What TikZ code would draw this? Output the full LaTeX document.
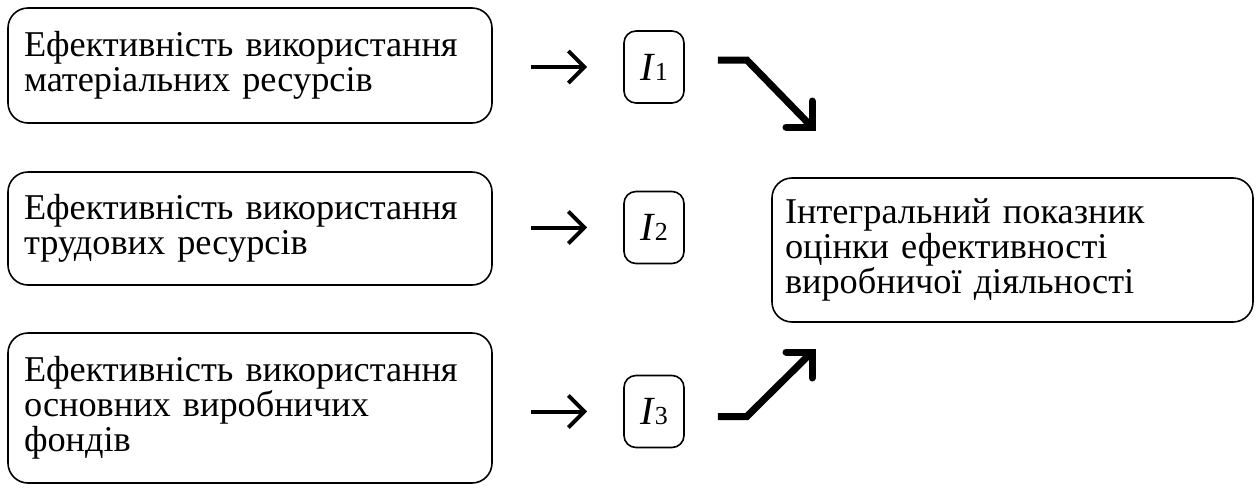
\documentclass[tikz,border=0pt]{standalone}
\usepackage{fontspec}
\setmainfont{Liberation Serif}
\usetikzlibrary{arrows.meta}

\tikzset{
  factor/.style={draw, line width=1.6pt, rounded corners=20pt,
    minimum width=484pt, text width=452pt, align=left, inner sep=0pt,
    font=\fontsize{36.3}{35}\selectfont},
  index/.style={draw, line width=1.6pt, rounded corners=12pt,
    minimum width=60pt, minimum height=72pt, inner sep=0pt,
    font=\fontsize{40}{40}\selectfont},
  goes/.style={line width=4pt, -{Straight Barb[length=16pt,width=32pt]},
    shorten <=38pt, shorten >=36pt},
  elbow/.style={line width=7pt, line join=miter},
  barb/.style={line width=7pt, line cap=round}
}
\newcommand{\idx}[1]{\textit{I}{\fontsize{26}{26}\selectfont #1}}

\begin{document}
\begin{tikzpicture}[x=1pt,y=-1pt]
  \useasboundingbox (0,0) rectangle (1259,488);

  % three groups of resources
  \node[factor, minimum height=115pt] (e1) at (250,65.5)
    {Ефективність використання\\матеріальних ресурсів};
  \node[factor, minimum height=113pt] (e2) at (250,228.5)
    {Ефективність використання\\трудових ресурсів};
  \node[factor, minimum height=150pt] (e3) at (250,408)
    {Ефективність використання\\основних виробничих\\фондів};

  % partial indices
  \node[index] (i1) at (654,67) {\idx{1}};
  \node[index] (i2) at (654,227.5) {\idx{2}};
  \node[index] (i3) at (654,411.5) {\idx{3}};

  \node[factor, minimum width=481pt, minimum height=144pt, text width=455pt]
    (total) at (1012.5,250)
    {Інтегральний показник\\оцінки ефективності\\виробничої діяльності};

  \draw[goes] (e1.east |- i1) -- (i1.west);
  \draw[goes] (e2.east |- i2) -- (i2.west);
  \draw[goes] (e3.east |- i3) -- (i3.west);

  % bent arrows into the integral index
  \coordinate (t1) at (812,127);
  \coordinate (t3) at (812,352);
  \draw[elbow] ([xshift=33pt,yshift=7pt]i1.east) -- ++(29,0) -- (t1);
  \draw[barb] ([yshift=26pt]t1) -- (t1) -- ([xshift=-26pt]t1);
  \draw[elbow] ([xshift=33pt,yshift=-5pt]i3.east) -- ++(29,0) -- (t3);
  \draw[barb] ([yshift=-26pt]t3) -- (t3) -- ([xshift=-26pt]t3);
\end{tikzpicture}
\end{document}
